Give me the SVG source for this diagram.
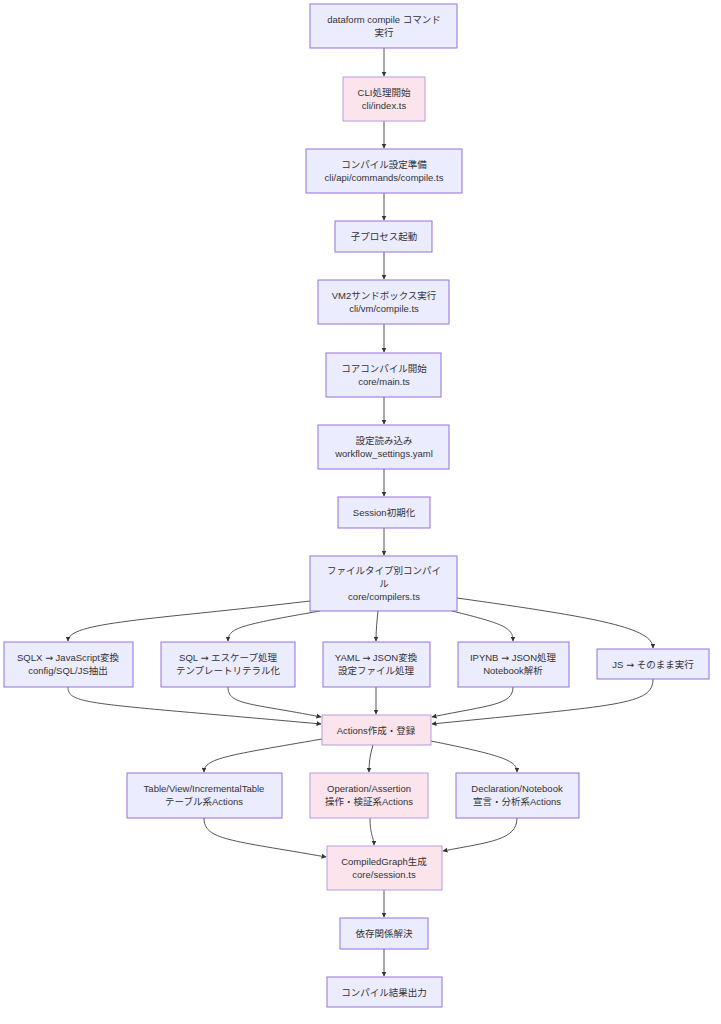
<svg xmlns="http://www.w3.org/2000/svg" width="721" height="1024" viewBox="0 0 721 1024">
<style>
.n rect{fill:#ECECFF;stroke:#9370DB;stroke-width:1}
.p rect{fill:#FCE4EC;stroke:#B39DDB;stroke-width:1}
text{font-family:"Liberation Sans","Noto Sans CJK JP",sans-serif;font-size:9.5px;fill:#333;text-anchor:middle}
.ar{font-family:"DejaVu Sans",sans-serif}
.e path{fill:none;stroke:#555;stroke-width:1;marker-end:url(#a)}
</style>
<defs>
<marker id="a" viewBox="0 0 10 10" refX="9" refY="5" markerWidth="5" markerHeight="5" orient="auto">
<path d="M0,0 L10,5 L0,10 z" fill="#333"/>
</marker>
</defs>
<rect width="721" height="1024" fill="#fff"/>
<g class="e">
<path d="M384,48 L384,76"/>
<path d="M384,121 L384,148"/>
<path d="M384,193 L384,220"/>
<path d="M384,252 L384,279"/>
<path d="M384,324 L384,352"/>
<path d="M384,397 L384,424"/>
<path d="M384,469 L384,496"/>
<path d="M384,528 L384,555"/>
<path d="M310,601 C150,620 68,622 68,641"/>
<path d="M320,611 C240,625 228,628 228,641"/>
<path d="M378,611 C377,620 376,630 376,641"/>
<path d="M452,611 C505,624 513,628 513,641"/>
<path d="M457,598 C600,618 653,628 653,648"/>
<path d="M68,687 C68,705 90,703 321,724"/>
<path d="M228,687 C228,705 250,703 321,717"/>
<path d="M376,687 L376,714"/>
<path d="M513,687 C513,705 490,705 432,717"/>
<path d="M653,679 C653,705 620,705 432,724"/>
<path d="M322,739 C230,755 204,758 204,772"/>
<path d="M373,745 C370,755 369,762 369,772"/>
<path d="M431,741 C500,755 517,760 517,772"/>
<path d="M204,818 C204,840 230,840 326,857"/>
<path d="M370,818 C370,835 374,838 374,845"/>
<path d="M517,818 C517,840 490,842 443,851"/>
<path d="M384,890 L384,917"/>
<path d="M384,949 L384,976"/>
</g>
<g id="n1" class="n"><rect x="310" y="4" width="147" height="44"/><text x="384" y="23">dataform compile コマンド</text><text x="384" y="36">実行</text></g>
<g id="n2" class="p"><rect x="343" y="77" width="82" height="44"/><text x="384" y="96">CLI処理開始</text><text x="384" y="109">cli/index.ts</text></g>
<g id="n3" class="n"><rect x="306" y="149" width="156" height="44"/><text x="384" y="168">コンパイル設定準備</text><text x="384" y="181">cli/api/commands/compile.ts</text></g>
<g id="n4" class="n"><rect x="335" y="221" width="97" height="31"/><text x="384" y="240">子プロセス起動</text></g>
<g id="n5" class="n"><rect x="318" y="280" width="131" height="44"/><text x="384" y="299">VM2サンドボックス実行</text><text x="384" y="312">cli/vm/compile.ts</text></g>
<g id="n6" class="n"><rect x="326" y="353" width="115" height="44"/><text x="384" y="372">コアコンパイル開始</text><text x="384" y="385">core/main.ts</text></g>
<g id="n7" class="n"><rect x="318" y="425" width="131" height="44"/><text x="384" y="444">設定読み込み</text><text x="384" y="457">workflow_settings.yaml</text></g>
<g id="n8" class="n"><rect x="338" y="497" width="92" height="31"/><text x="384" y="516">Session初期化</text></g>
<g id="n9" class="n"><rect x="310" y="556" width="147" height="55"/><text x="384" y="574">ファイルタイプ別コンパイ</text><text x="384" y="587">ル</text><text x="384" y="600">core/compilers.ts</text></g>
<g id="a1" class="n"><rect x="4" y="642" width="129" height="45"/><text x="68" y="661">SQLX <tspan class="ar">→</tspan> JavaScript変換</text><text x="68" y="674">config/SQL/JS抽出</text></g>
<g id="a2" class="n"><rect x="161" y="642" width="134" height="45"/><text x="228" y="661">SQL <tspan class="ar">→</tspan> エスケープ処理</text><text x="228" y="674">テンプレートリテラル化</text></g>
<g id="a3" class="n"><rect x="323" y="642" width="107" height="45"/><text x="376" y="661">YAML <tspan class="ar">→</tspan> JSON変換</text><text x="376" y="674">設定ファイル処理</text></g>
<g id="a4" class="n"><rect x="458" y="642" width="111" height="45"/><text x="513" y="661">IPYNB <tspan class="ar">→</tspan> JSON処理</text><text x="513" y="674">Notebook解析</text></g>
<g id="a5" class="n"><rect x="597" y="649" width="112" height="30"/><text x="653" y="668">JS <tspan class="ar">→</tspan> そのまま実行</text></g>
<g id="act" class="p"><rect x="322" y="715" width="109" height="30"/><text x="376" y="734">Actions作成・登録</text></g>
<g id="b1" class="n"><rect x="127" y="773" width="155" height="45"/><text x="204" y="792">Table/View/IncrementalTable</text><text x="204" y="805">テーブル系Actions</text></g>
<g id="b2" class="p"><rect x="310" y="773" width="118" height="45"/><text x="369" y="792">Operation/Assertion</text><text x="369" y="805">操作・検証系Actions</text></g>
<g id="b3" class="n"><rect x="456" y="773" width="123" height="45"/><text x="517" y="792">Declaration/Notebook</text><text x="517" y="805">宣言・分析系Actions</text></g>
<g id="cg" class="p"><rect x="327" y="846" width="115" height="44"/><text x="384" y="865">CompiledGraph生成</text><text x="384" y="878">core/session.ts</text></g>
<g id="dep" class="n"><rect x="340" y="918" width="88" height="31"/><text x="384" y="937">依存関係解決</text></g>
<g id="out" class="n"><rect x="327" y="977" width="115" height="30"/><text x="384" y="996">コンパイル結果出力</text></g>
</svg>
